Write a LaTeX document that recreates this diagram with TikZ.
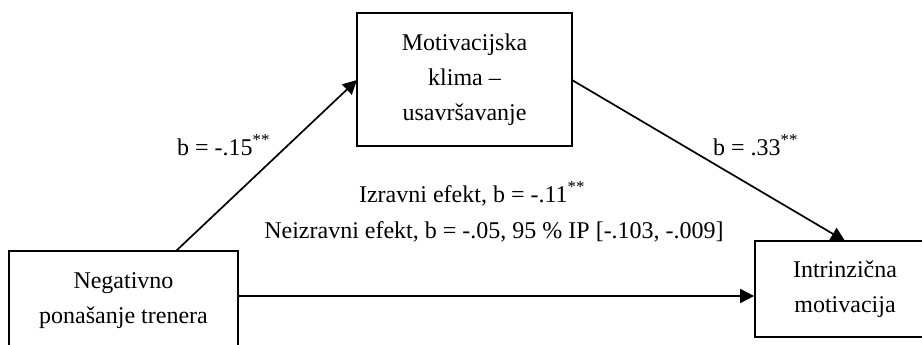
\documentclass[tikz,border=0pt]{standalone}
\usepackage{fontspec}
\setmainfont{Liberation Serif}
\usetikzlibrary{arrows.meta}
\begin{document}
\begin{tikzpicture}[x=1pt,y=-1pt,
  box/.style={draw,line width=1.7pt,inner sep=0pt,align=center,font=\fontsize{24}{35}\selectfont},
  lbl/.style={inner sep=0pt,font=\fontsize{24}{28}\selectfont},
  arr/.style={line width=1.7pt,-{Triangle[length=14pt,width=14pt]}}]
\useasboundingbox (0,0) rectangle (922,345);
\node[box,minimum width=229pt,minimum height=99pt] (neg) at (123.5,300.5) {Negativno\\ponašanje trenera};
\node[box,minimum width=215pt,minimum height=133pt] (mot) at (464.5,79.5) {Motivacijska\\klima –\\usavršavanje};
\node[box,minimum width=180pt,minimum height=96pt] (intr) at (845,289) {Intrinzična\\motivacija};
\coordinate (a1) at (176,251);
\coordinate (a2) at (357,80);
\coordinate (b1) at (572,80);
\coordinate (b2) at (845,241);
\draw[arr] (a1) -- (a2);
\draw[arr] (b1) -- (b2);
\draw[arr] (neg.east |- 0,296) -- (intr.west |- 0,296);
\node[lbl,anchor=base west] (l1) at (177,155) {b = -.15\textsuperscript{**}};
\node[lbl,anchor=base west] (l2) at (713,155) {b = .33\textsuperscript{**}};
\node[lbl,anchor=base] (l3) at (472,202) {Izravni efekt, b = -.11\textsuperscript{**}};
\node[lbl,anchor=base] (l4) at (494,238) {Neizravni efekt, b = -.05, 95 \% IP [-.103, -.009]};
\end{tikzpicture}
\end{document}
